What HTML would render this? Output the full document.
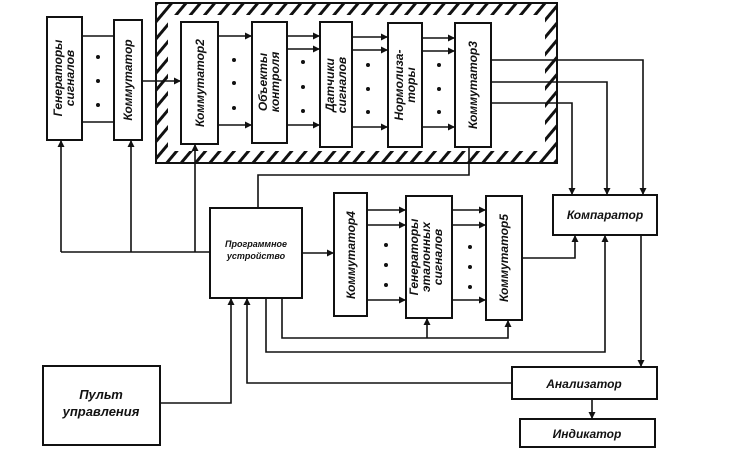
<!DOCTYPE html>
<html><head><meta charset="utf-8"><style>
html,body{margin:0;padding:0;background:#fff;}
svg{display:block}
text{font-family:"Liberation Sans",sans-serif;font-style:italic;font-weight:bold;fill:#111}
</style></head><body>
<svg width="735" height="455" viewBox="0 0 735 455" xmlns="http://www.w3.org/2000/svg">
<defs>
<pattern id="h" width="11" height="11" patternUnits="userSpaceOnUse" patternTransform="rotate(40)">
<rect width="11" height="11" fill="#fff"/><rect x="0" y="0" width="3" height="11" fill="#111"/>
</pattern>
<marker id="a" viewBox="0 0 10 10" refX="10" refY="5" markerWidth="9" markerHeight="7" orient="auto" markerUnits="userSpaceOnUse"><path d="M0,0 L10,5 L0,10 z" fill="#111"/></marker>
</defs>
<g stroke="#111" stroke-width="2" fill="none">
<path d="M156,3 H557 V163 H156 Z M168,15 V151 H545 V15 Z" fill="url(#h)" fill-rule="evenodd" stroke="none"/>
<rect x="156" y="3" width="401" height="160"/>
<rect x="47" y="17" width="35" height="123" fill="#fff"/>
<rect x="114" y="20" width="28" height="120" fill="#fff"/>
<rect x="181" y="22" width="37" height="122" fill="#fff"/>
<rect x="252" y="22" width="35" height="121" fill="#fff"/>
<rect x="320" y="22" width="32" height="125" fill="#fff"/>
<rect x="388" y="23" width="34" height="124" fill="#fff"/>
<rect x="455" y="23" width="36" height="124" fill="#fff"/>
<rect x="210" y="208" width="92" height="90" fill="#fff"/>
<rect x="334" y="193" width="33" height="123" fill="#fff"/>
<rect x="406" y="196" width="46" height="122" fill="#fff"/>
<rect x="486" y="196" width="36" height="124" fill="#fff"/>
<rect x="553" y="195" width="104" height="40" fill="#fff"/>
<rect x="512" y="367" width="145" height="32" fill="#fff"/>
<rect x="520" y="419" width="135" height="28" fill="#fff"/>
<rect x="43" y="366" width="117" height="79" fill="#fff"/>
</g>
<g stroke="#111" stroke-width="1.6" fill="none">
<line x1="82" y1="36" x2="114" y2="36"/><line x1="82" y1="122" x2="114" y2="122"/>
<line x1="142" y1="81" x2="181" y2="81" marker-end="url(#a)"/>
<line x1="218" y1="36" x2="252" y2="36" marker-end="url(#a)"/><line x1="218" y1="125" x2="252" y2="125" marker-end="url(#a)"/>
<line x1="287" y1="36" x2="320" y2="36" marker-end="url(#a)"/><line x1="287" y1="49" x2="320" y2="49" marker-end="url(#a)"/><line x1="287" y1="125" x2="320" y2="125" marker-end="url(#a)"/>
<line x1="352" y1="37" x2="388" y2="37" marker-end="url(#a)"/><line x1="352" y1="50" x2="388" y2="50" marker-end="url(#a)"/><line x1="352" y1="127" x2="388" y2="127" marker-end="url(#a)"/>
<line x1="422" y1="38" x2="455" y2="38" marker-end="url(#a)"/><line x1="422" y1="51" x2="455" y2="51" marker-end="url(#a)"/><line x1="422" y1="127" x2="455" y2="127" marker-end="url(#a)"/>
<polyline points="491,60 643,60 643,195" marker-end="url(#a)"/>
<polyline points="491,82 607,82 607,195" marker-end="url(#a)"/>
<polyline points="491,103 572,103 572,195" marker-end="url(#a)"/>
<polyline points="469,147 469,175 258,175 258,208"/>
<line x1="61" y1="252" x2="61" y2="140" marker-end="url(#a)"/>
<line x1="131" y1="252" x2="131" y2="140" marker-end="url(#a)"/>
<line x1="195" y1="252" x2="195" y2="144" marker-end="url(#a)"/>
<line x1="61" y1="252" x2="210" y2="252"/>
<line x1="302" y1="253" x2="334" y2="253" marker-end="url(#a)"/>
<line x1="367" y1="210" x2="406" y2="210" marker-end="url(#a)"/><line x1="367" y1="225" x2="406" y2="225" marker-end="url(#a)"/><line x1="367" y1="300" x2="406" y2="300" marker-end="url(#a)"/>
<line x1="452" y1="210" x2="486" y2="210" marker-end="url(#a)"/><line x1="452" y1="225" x2="486" y2="225" marker-end="url(#a)"/><line x1="452" y1="300" x2="486" y2="300" marker-end="url(#a)"/>
<polyline points="522,258 575,258 575,235" marker-end="url(#a)"/>
<polyline points="282,298 282,338 508,338 508,320" marker-end="url(#a)"/>
<line x1="427" y1="338" x2="427" y2="318" marker-end="url(#a)"/>
<polyline points="266,298 266,352 605,352 605,235" marker-end="url(#a)"/>
<line x1="641" y1="235" x2="641" y2="367" marker-end="url(#a)"/>
<polyline points="512,383 247,383 247,298" marker-end="url(#a)"/>
<line x1="592" y1="399" x2="592" y2="419" marker-end="url(#a)"/>
<polyline points="160,403 231,403 231,298" marker-end="url(#a)"/>
</g>
<g fill="#111">
<circle cx="98" cy="57" r="2"/><circle cx="98" cy="81" r="2"/><circle cx="98" cy="105" r="2"/>
<circle cx="234" cy="60" r="2"/><circle cx="234" cy="83" r="2"/><circle cx="234" cy="108" r="2"/>
<circle cx="303" cy="62" r="2"/><circle cx="303" cy="87" r="2"/><circle cx="303" cy="111" r="2"/>
<circle cx="368" cy="65" r="2"/><circle cx="368" cy="89" r="2"/><circle cx="368" cy="112" r="2"/>
<circle cx="439" cy="65" r="2"/><circle cx="439" cy="89" r="2"/><circle cx="439" cy="112" r="2"/>
<circle cx="386" cy="245" r="2"/><circle cx="386" cy="265" r="2"/><circle cx="386" cy="285" r="2"/>
<circle cx="470" cy="247" r="2"/><circle cx="470" cy="267" r="2"/><circle cx="470" cy="287" r="2"/>
</g>
<g font-size="12" text-anchor="middle">
<text transform="translate(62,78) rotate(-90)">Генераторы</text>
<text transform="translate(74,78) rotate(-90)">сигналов</text>
<text transform="translate(132,80) rotate(-90)">Коммутатор</text>
<text transform="translate(204,83) rotate(-90)">Коммутатор2</text>
<text transform="translate(267,82) rotate(-90)">Объекты</text>
<text transform="translate(279,82) rotate(-90)">контроля</text>
<text transform="translate(334,85) rotate(-90)">Датчики</text>
<text transform="translate(346,85) rotate(-90)">сигналов</text>
<text transform="translate(403,85) rotate(-90)">Нормолиза-</text>
<text transform="translate(415,85) rotate(-90)">торы</text>
<text transform="translate(477,85) rotate(-90)">Коммутатор3</text>
<text transform="translate(355,255) rotate(-90)">Коммутатор4</text>
<text transform="translate(418,257) rotate(-90)">Генераторы</text>
<text transform="translate(430,257) rotate(-90)">эталонных</text>
<text transform="translate(442,257) rotate(-90)">сигналов</text>
<text transform="translate(508,258) rotate(-90)">Коммутатор5</text>
<text x="605" y="219">Компаратор</text>
<text x="584" y="388">Анализатор</text>
<text x="587" y="438">Индикатор</text>
<text x="101" y="399" font-size="13">Пульт</text>
<text x="101" y="416" font-size="13">управления</text>
<text x="256" y="247" font-size="9" font-weight="normal">Программное</text>
<text x="256" y="259" font-size="9" font-weight="normal">устройство</text>
</g>
</svg>
</body></html>
